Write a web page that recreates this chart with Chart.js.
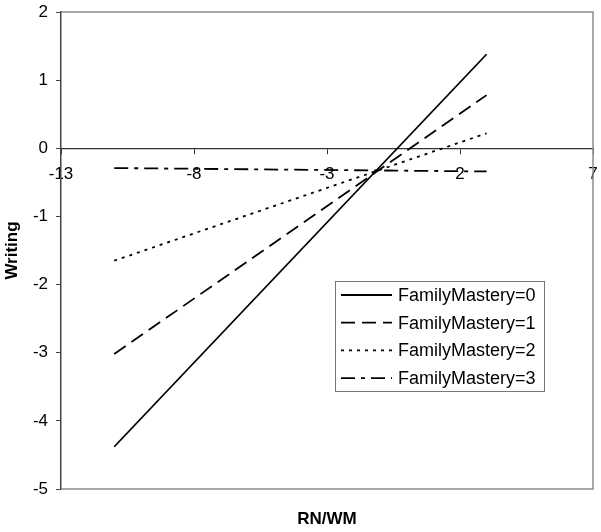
<!DOCTYPE html>
<html>
<head>
<meta charset="utf-8">
<script src="https://cdn.jsdelivr.net/npm/chart.js@4/dist/chart.umd.min.js"></script>
<style>
html,body{margin:0;padding:0;background:#fff;}
#wrap{width:601px;height:532px;}
</style>
</head>
<body>
<div id="wrap"><canvas id="c" width="601" height="532"></canvas></div>
<script>
const xValues = [-11, 3];
const seriesNames = ["FamilyMastery=0", "FamilyMastery=1", "FamilyMastery=2", "FamilyMastery=3"];
const fm0 = [-4.38, 1.38];
const fm1 = [-3.02, 0.78];
const fm2 = [-1.65, 0.22];
const fm3 = [-0.29, -0.34];
const xTicks = [-13, -8, -3, 2, 7];
const yTicks = [-5, -4, -3, -2, -1, 0, 1, 2];
const dashes = [[], [14, 7], [3, 5], [14, 6, 4, 6]];
const allSeries = [fm0, fm1, fm2, fm3];

const FONT = "'Liberation Sans', Arial, sans-serif";

const datasets = allSeries.map((s, i) => ({
  label: seriesNames[i],
  data: xValues.map((x, j) => ({x: x, y: s[j]})),
  borderColor: '#000',
  borderWidth: 1.8,
  borderDash: dashes[i],
  pointRadius: 0,
  showLine: true,
  fill: false
}));

const framePlugin = {
  id: 'frame',
  beforeDatasetsDraw(chart) {
    const {ctx, chartArea: a} = chart;
    ctx.save();
    ctx.strokeStyle = '#8c8c8c';
    ctx.lineWidth = 1.5;
    ctx.beginPath();
    ctx.moveTo(a.left, a.top);
    ctx.lineTo(a.right, a.top);
    ctx.lineTo(a.right, a.bottom);
    ctx.lineTo(a.left, a.bottom);
    ctx.stroke();
    ctx.restore();
  },
  afterDraw(chart) {
    const {ctx, chartArea: a} = chart;
    ctx.save();
    ctx.fillStyle = '#000';
    ctx.font = "bold 17px " + FONT;
    ctx.textAlign = 'center';
    ctx.textBaseline = 'middle';
    ctx.fillText('RN/WM', (a.left + a.right) / 2, 519);
    const lx = 335, ly = 281, lw = 209, lh = 110;
    ctx.fillStyle = '#fff';
    ctx.fillRect(lx, ly, lw, lh);
    ctx.strokeStyle = '#777';
    ctx.lineWidth = 1;
    ctx.strokeRect(lx + 0.5, ly + 0.5, lw, lh);
    ctx.font = "18px " + FONT;
    ctx.textAlign = 'left';
    chart.data.datasets.forEach((d, i) => {
      const y = 295 + i * 27.7;
      ctx.strokeStyle = '#000';
      ctx.lineWidth = 1.8;
      ctx.setLineDash(d.borderDash);
      ctx.beginPath();
      ctx.moveTo(341, y);
      ctx.lineTo(392, y);
      ctx.stroke();
      ctx.setLineDash([]);
      ctx.fillStyle = '#000';
      ctx.fillText(d.label, 398, y + 1);
    });
    ctx.restore();
  }
};

new Chart(document.getElementById('c'), {
  type: 'scatter',
  data: {datasets: datasets},
  plugins: [framePlugin],
  options: {
    responsive: false,
    animation: false,
    layout: {padding: {left: 0, top: 12, right: 8, bottom: 43}},
    plugins: {legend: {display: false}, tooltip: {enabled: false}},
    scales: {
      x: {
        type: 'linear',
        position: {y: 0},
        min: -13, max: 7,
        afterBuildTicks(s) { s.ticks = xTicks.map(v => ({value: v})); },
        afterFit(s) { s.paddingLeft = 0; s.paddingRight = 0; },
        grid: {display: true, drawOnChartArea: false, drawTicks: true, tickLength: 5, tickColor: '#333', tickWidth: 1},
        border: {display: true, color: '#333', width: 1.3},
        ticks: {color: '#000', font: {family: FONT, size: 17}, padding: 11, maxRotation: 0,
          callback: v => String(v)},
        title: {display: false}
      },
      y: {
        type: 'linear',
        position: 'left',
        min: -5, max: 2,
        afterBuildTicks(s) { s.ticks = yTicks.map(v => ({value: v})); },
        afterFit(s) { s.width = 61; s.paddingTop = 0; s.paddingBottom = 0; },
        grid: {display: true, drawOnChartArea: false, drawTicks: true, tickLength: 5, tickColor: '#444', tickWidth: 1},
        border: {display: true, color: '#444', width: 1.5},
        ticks: {color: '#000', font: {family: FONT, size: 17}, padding: 8,
          callback: v => String(v)},
        title: {display: true, text: 'Writing', color: '#000', font: {family: FONT, size: 17, weight: 'bold'}, padding: {top: 2, bottom: 0}}
      }
    }
  }
});
</script>
</body>
</html>
